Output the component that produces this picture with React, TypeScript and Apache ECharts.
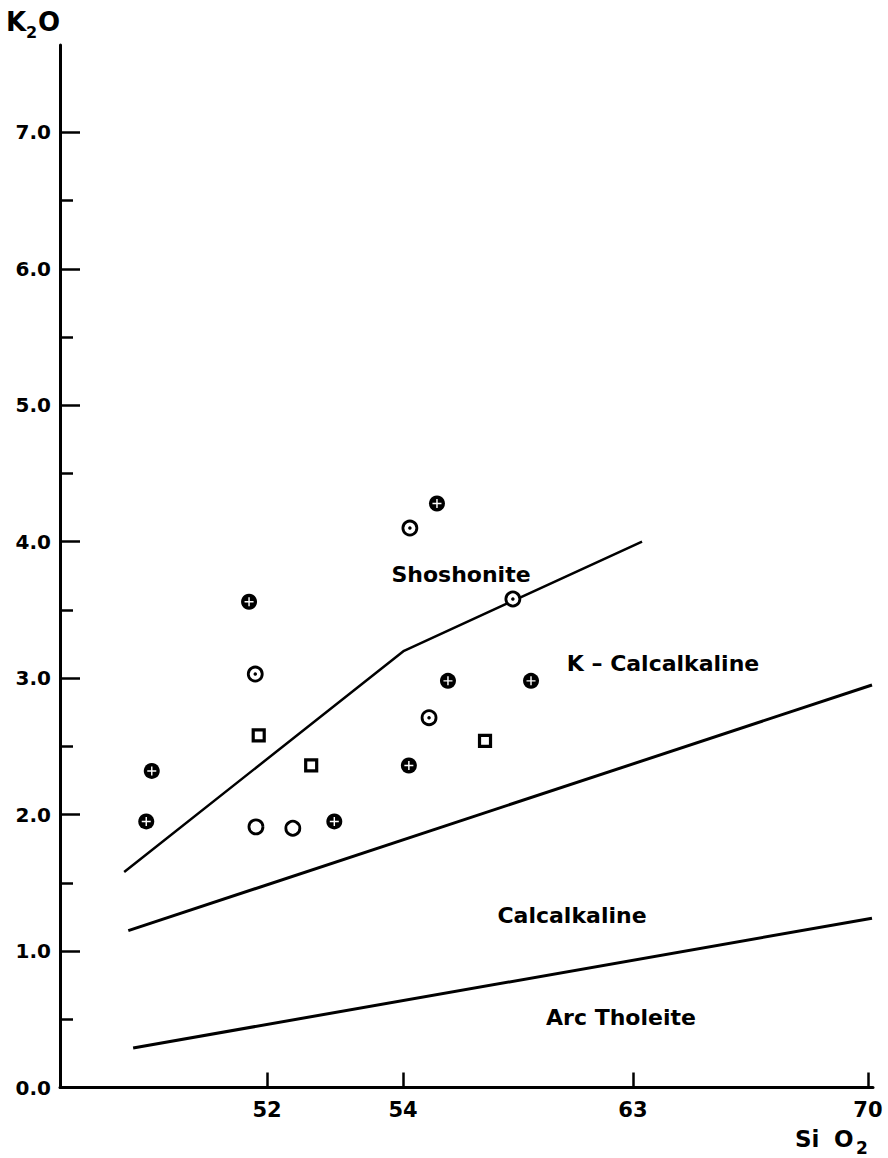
import React, { useEffect, useRef } from "react";
import * as echarts from "echarts";

// The SiO2 axis of the original diagram has uneven spacing between its ticks.
// Its scale is piecewise linear between these break values (relative spacing).
const SIO2_BREAKS = [49, 52, 54, 63, 70];
const SIO2_SPACING = [0, 207, 343, 573, 808];
const SIO2_AXIS_END = 70.15;

const xTickLabels = [52, 54, 63, 70];
const yTickLabels = [0, 1, 2, 3, 4, 5, 6, 7];
const yMinorTicks = [0.5, 1.5, 2.5, 3.5, 4.5, 5.5, 6.5];
const K2O_MAX = 7.64;

// Samples (SiO2 wt%, K2O wt%)
const crossSiO2 = [55.33, 51.74, 55.76, 59.01, 54.23, 50.33, 52.99, 50.25];
const crossK2O = [4.28, 3.56, 2.98, 2.98, 2.36, 2.32, 1.95, 1.95];

const dottedSiO2 = [54.27, 58.3, 51.83, 55.02];
const dottedK2O = [4.1, 3.58, 3.03, 2.71];

const openSiO2 = [51.84, 52.38];
const openK2O = [1.91, 1.9];

const squareSiO2 = [51.88, 52.65, 57.21];
const squareK2O = [2.58, 2.36, 2.54];

// Field boundaries
const shoshoniteLineSiO2 = [49.93, 54.04, 63.27];
const shoshoniteLineK2O = [1.58, 3.2, 4.0];

const kCalcLineSiO2 = [49.99, 70.12];
const kCalcLineK2O = [1.15, 2.95];

const tholeiiteLineSiO2 = [50.06, 70.12];
const tholeiiteLineK2O = [0.29, 1.24];

function toAxis(si: number): number {
  const b = SIO2_BREAKS;
  const p = SIO2_SPACING;
  let i = 0;
  if (si <= b[0]) i = 0;
  else if (si >= b[b.length - 1]) i = b.length - 2;
  else {
    while (i < b.length - 2 && si > b[i + 1]) i++;
  }
  return p[i] + ((si - b[i]) * (p[i + 1] - p[i])) / (b[i + 1] - b[i]);
}

function pairs(xs: number[], ys: number[]) {
  return xs.map((x, i) => [toAxis(x), ys[i]]);
}

const FONT = '"DejaVu Sans", "Liberation Sans", sans-serif';

export default function App() {
  const ref = useRef<HTMLDivElement>(null);

  useEffect(() => {
    if (!ref.current) return;
    const chart = echarts.init(ref.current, undefined, { renderer: "svg" });
    const xTickPos = xTickLabels.map(toAxis);

    const lineSeries = (xs: number[], ys: number[], w: number) => ({
      type: "line",
      data: pairs(xs, ys),
      symbol: "none",
      silent: true,
      lineStyle: { color: "#000", width: w, opacity: 1 },
      z: 1,
    });

    const text = (t: string, x: number, y: number, size: number, align = "center") => ({
      type: "text",
      x,
      y,
      silent: true,
      style: {
        text: t,
        fill: "#000",
        font: `bold ${size}px ${FONT}`,
        align,
        verticalAlign: "middle",
      },
    });

    chart.setOption({
      animation: false,
      backgroundColor: "#fff",
      grid: { left: 60, right: 15, top: 45, bottom: 70.5, containLabel: false },
      xAxis: {
        type: "value",
        min: 0,
        max: toAxis(SIO2_AXIS_END),
        axisLine: { show: true, onZero: false, lineStyle: { color: "#000", width: 3 } },
        axisTick: {
          show: true,
          inside: true,
          length: 15,
          customValues: xTickPos,
          lineStyle: { color: "#000", width: 2.5 },
        },
        axisLabel: {
          customValues: xTickPos,
          margin: 12,
          color: "#000",
          fontSize: 21,
          fontWeight: "bold",
          fontFamily: FONT,
          formatter: (v: number) => {
            let best = 0;
            xTickPos.forEach((p, i) => {
              if (Math.abs(p - v) < Math.abs(xTickPos[best] - v)) best = i;
            });
            return String(xTickLabels[best]);
          },
        },
        splitLine: { show: false },
      },
      yAxis: [
        {
          type: "value",
          position: "left",
          min: 0,
          max: K2O_MAX,
          axisLine: { show: true, onZero: false, lineStyle: { color: "#000", width: 3 } },
          axisTick: {
            show: true,
            inside: true,
            length: 20,
            customValues: yTickLabels,
            lineStyle: { color: "#000", width: 2.5 },
          },
          axisLabel: {
            customValues: yTickLabels,
            margin: 9,
            color: "#000",
            fontSize: 20,
            fontWeight: "bold",
            fontFamily: FONT,
            formatter: (v: number) => v.toFixed(1),
          },
          splitLine: { show: false },
        },
        {
          type: "value",
          position: "left",
          offset: 0,
          min: 0,
          max: K2O_MAX,
          axisLine: { show: false },
          axisTick: {
            show: true,
            inside: true,
            length: 13,
            customValues: yMinorTicks,
            lineStyle: { color: "#000", width: 2.5 },
          },
          axisLabel: { show: false },
          splitLine: { show: false },
        },
      ],
      series: [
        lineSeries(shoshoniteLineSiO2, shoshoniteLineK2O, 2.5),
        lineSeries(kCalcLineSiO2, kCalcLineK2O, 3),
        lineSeries(tholeiiteLineSiO2, tholeiiteLineK2O, 3),
        {
          type: "scatter",
          data: pairs(crossSiO2, crossK2O),
          symbol: "circle",
          symbolSize: 16,
          itemStyle: { color: "#000", opacity: 1 },
          z: 3,
        },
        {
          type: "scatter",
          data: pairs(crossSiO2, crossK2O),
          symbol: "path://M0,4.2H10V5.8H0Z M4.2,0H5.8V10H4.2Z",
          symbolSize: 9,
          itemStyle: { color: "#fff", opacity: 1 },
          z: 4,
        },
        {
          type: "scatter",
          data: pairs(dottedSiO2, dottedK2O),
          symbol: "circle",
          symbolSize: 14,
          itemStyle: { color: "#fff", borderColor: "#000", borderWidth: 2.8, opacity: 1 },
          z: 3,
        },
        {
          type: "scatter",
          data: pairs(dottedSiO2, dottedK2O),
          symbol: "circle",
          symbolSize: 3.5,
          itemStyle: { color: "#000", opacity: 1 },
          z: 4,
        },
        {
          type: "scatter",
          data: pairs(openSiO2, openK2O),
          symbol: "circle",
          symbolSize: 14,
          itemStyle: { color: "#fff", borderColor: "#000", borderWidth: 2.8, opacity: 1 },
          z: 3,
        },
        {
          type: "scatter",
          data: pairs(squareSiO2, squareK2O),
          symbol: "rect",
          symbolSize: 11,
          itemStyle: { color: "#fff", borderColor: "#000", borderWidth: 3.2, opacity: 1 },
          z: 3,
        },
      ],
      graphic: [
        text("K", 6, 22, 26, "left"),
        text("2", 26, 32, 16, "left"),
        text("O", 38, 22, 26, "left"),
        text("Si", 795, 1139, 23, "left"),
        text("O", 834, 1139, 23, "left"),
        text("2", 856, 1148, 17, "left"),
        text("Shoshonite", 461, 574, 22),
        text("K – Calcalkaline", 663, 663, 22),
        text("Calcalkaline", 572, 915, 22),
        text("Arc Tholeite", 621, 1017, 22),
      ],
    });

    return () => chart.dispose();
  }, []);

  return (
    <div
      ref={ref}
      style={{ position: "absolute", left: 0, top: 0, width: 888, height: 1158, background: "#fff" }}
    />
  );
}
